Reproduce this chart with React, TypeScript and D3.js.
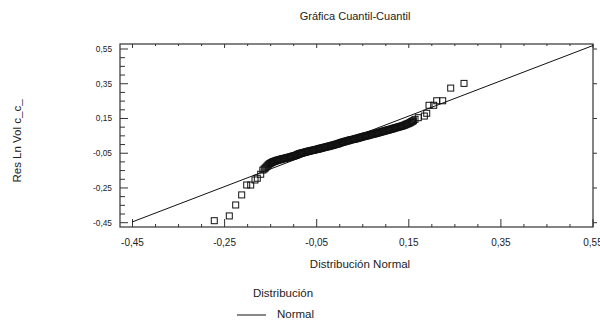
import React from "react";
import * as d3 from "d3";

// Lower tail: theoretical normal quantiles (x) and ordered residuals (y)
const lowerQuantiles: number[] = [
  -0.2724, -0.2398, -0.2259, -0.2129, -0.202, -0.1933, -0.184, -0.179, -0.1716, -0.167,
];
const lowerResiduals: number[] = [
  -0.4385, -0.411, -0.348, -0.29, -0.233, -0.233, -0.204, -0.194, -0.171, -0.147,
];

// Central body of the sample
const bodyQuantiles: number[] = [
  -0.164, -0.162, -0.16, -0.158, -0.156, -0.154, -0.152, -0.15, -0.148, -0.146,
  -0.144, -0.142, -0.14, -0.138, -0.136, -0.134, -0.132, -0.13, -0.128, -0.126,
  -0.124, -0.122, -0.12, -0.118, -0.116, -0.114, -0.112, -0.11, -0.108, -0.106,
  -0.104, -0.102, -0.1, -0.098, -0.096, -0.094, -0.092, -0.09, -0.088, -0.086,
  -0.084, -0.082, -0.08, -0.078, -0.076, -0.074, -0.072, -0.07, -0.068, -0.066,
  -0.064, -0.062, -0.06, -0.058, -0.056, -0.054, -0.052, -0.05, -0.048, -0.046,
  -0.044, -0.042, -0.04, -0.038, -0.036, -0.034, -0.032, -0.03, -0.028, -0.026,
  -0.024, -0.022, -0.02, -0.018, -0.016, -0.014, -0.012, -0.01, -0.008, -0.006,
  -0.004, -0.002, 0.0, 0.002, 0.004, 0.006, 0.008, 0.01, 0.012, 0.014,
  0.016, 0.018, 0.02, 0.022, 0.024, 0.026, 0.028, 0.03, 0.032, 0.034,
  0.036, 0.038, 0.04, 0.042, 0.044, 0.046, 0.048, 0.05, 0.052, 0.054,
  0.056, 0.058, 0.06, 0.062, 0.064, 0.066, 0.068, 0.07, 0.072, 0.074,
  0.076, 0.078, 0.08, 0.082, 0.084, 0.086, 0.088, 0.09, 0.092, 0.094,
  0.096, 0.098, 0.1, 0.102, 0.104, 0.106, 0.108, 0.11, 0.112, 0.114,
  0.116, 0.118, 0.12, 0.122, 0.124, 0.126, 0.128, 0.13, 0.132, 0.134,
  0.136, 0.138, 0.14, 0.142, 0.144, 0.146, 0.148, 0.15, 0.152, 0.154,
  0.156, 0.158, 0.16,
];
const bodyResiduals: number[] = [
  -0.141, -0.136, -0.13, -0.125, -0.119, -0.114, -0.11, -0.107, -0.104, -0.101,
  -0.099, -0.097, -0.095, -0.093, -0.091, -0.09, -0.088, -0.087, -0.085, -0.084,
  -0.082, -0.081, -0.08, -0.079, -0.077, -0.076, -0.075, -0.073, -0.072, -0.07,
  -0.069, -0.067, -0.066, -0.064, -0.063, -0.061, -0.058, -0.056, -0.053, -0.052,
  -0.05, -0.049, -0.047, -0.046, -0.045, -0.043, -0.042, -0.04, -0.039, -0.038,
  -0.036, -0.035, -0.034, -0.033, -0.032, -0.03, -0.029, -0.028, -0.027, -0.025,
  -0.024, -0.022, -0.021, -0.02, -0.018, -0.017, -0.016, -0.014, -0.013, -0.012,
  -0.01, -0.009, -0.008, -0.006, -0.005, -0.003, -0.002, 0.0, 0.001, 0.003,
  0.004, 0.006, 0.008, 0.01, 0.012, 0.013, 0.015, 0.016, 0.018, 0.019,
  0.021, 0.022, 0.024, 0.025, 0.027, 0.028, 0.029, 0.03, 0.031, 0.033,
  0.034, 0.036, 0.037, 0.039, 0.04, 0.042, 0.043, 0.045, 0.046, 0.048,
  0.049, 0.05, 0.051, 0.053, 0.054, 0.056, 0.057, 0.059, 0.06, 0.061,
  0.062, 0.064, 0.065, 0.067, 0.068, 0.07, 0.071, 0.073, 0.074, 0.076,
  0.077, 0.079, 0.08, 0.082, 0.083, 0.084, 0.086, 0.087, 0.089, 0.09,
  0.092, 0.094, 0.095, 0.097, 0.098, 0.1, 0.101, 0.103, 0.104, 0.106,
  0.107, 0.109, 0.111, 0.113, 0.116, 0.118, 0.12, 0.122, 0.125, 0.128,
  0.131, 0.134, 0.137,
];

// Upper tail
const upperQuantiles: number[] = [
  0.1635, 0.1706, 0.1837, 0.1889, 0.1939, 0.2041, 0.2106, 0.2236, 0.241, 0.2699,
];
const upperResiduals: number[] = [
  0.145, 0.1545, 0.164, 0.18, 0.226, 0.226, 0.252, 0.252, 0.325, 0.352,
];

// Fitted normal reference line endpoints
const refLineX: number[] = [-0.45, 0.55];
const refLineY: number[] = [-0.445, 0.57];

const majorTicks: number[] = [-0.45, -0.25, -0.05, 0.15, 0.35, 0.55];
const minorTicks: number[] = d3.range(-0.45, 0.5501, 0.05).map((v) => +v.toFixed(2));

const title = "Gráfica Cuantil-Cuantil";
const xTitle = "Distribución Normal";
const yTitle = "Res Ln Vol c_c_";
const legendTitle = "Distribución";
const legendItem = "Normal";

const W = 600;
const H = 327;
const box = { left: 120, right: 593, top: 44, bottom: 227 };

const fmt = (v: number) => d3.format(".2f")(v).replace(".", ",").replace("−", "-");

export default function App() {
  const x = d3.scaleLinear().domain([-0.45, 0.55]).range([132.5, 593]);
  const y = d3.scaleLinear().domain([-0.45, 0.55]).range([222.7, 49]);
  const font = "'Liberation Sans', Arial, sans-serif";
  const axisColor = "#333";

  const line = d3
    .line<number>()
    .x((_, i) => x(refLineX[i]))
    .y((_, i) => y(refLineY[i]));

  const qs = [...lowerQuantiles, ...bodyQuantiles, ...upperQuantiles];
  const rs = [...lowerResiduals, ...bodyResiduals, ...upperResiduals];
  const pts = qs.map((q, i) => [q, rs[i]] as [number, number]);
  const s = 6;

  return (
    <svg
      width={W}
      height={H}
      style={{ position: "absolute", left: 0, top: 0, background: "#fff" }}
      fontFamily={font}
    >
      <rect x={0} y={0} width={W} height={H} fill="#fff" />
      <text x={355} y={20} fontSize={11} textAnchor="middle" fill="#222">
        {title}
      </text>

      {/* frame */}
      <rect
        x={box.left}
        y={box.top}
        width={box.right - box.left}
        height={box.bottom - box.top}
        fill="none"
        stroke={axisColor}
        strokeWidth={1.2}
      />

      {/* ticks: bottom (up), top (down), left (right) */}
      {minorTicks.map((t) => {
        const major = majorTicks.some((m) => Math.abs(m - t) < 1e-6);
        return (
          <g key={"xt" + t}>
            <line x1={x(t)} x2={x(t)} y1={box.bottom} y2={box.bottom - (major ? 8 : 3)} stroke={axisColor} />
            <line x1={x(t)} x2={x(t)} y1={box.top} y2={box.top + (major ? 4 : 2)} stroke={axisColor} />
            <line x1={box.left} x2={box.left + (major ? 8 : 5)} y1={y(t)} y2={y(t)} stroke={axisColor} />
          </g>
        );
      })}
      {majorTicks.map((t) => (
        <line key={"rt" + t} x1={box.right} x2={box.right + 4} y1={y(t)} y2={y(t)} stroke={axisColor} />
      ))}

      {majorTicks.map((t) => (
        <text key={"xl" + t} x={x(t)} y={246} fontSize={10} textAnchor="middle" fill="#222">
          {fmt(t)}
        </text>
      ))}
      {majorTicks.map((t) => (
        <text key={"yl" + t} x={112} y={y(t) + 2.8} fontSize={8.3} textAnchor="end" fill="#222">
          {fmt(t)}
        </text>
      ))}

      {/* reference line */}
      <path d={line(refLineX) || ""} fill="none" stroke="#111" strokeWidth={1} />

      {/* points */}
      {pts.map(([q, r], i) => (
        <rect
          key={"p" + i}
          x={x(q) - s / 2}
          y={y(r) - s / 2}
          width={s}
          height={s}
          fill="none"
          stroke="#111"
          strokeWidth={1}
        />
      ))}

      <text x={360} y={268} fontSize={11.5} textAnchor="middle" fill="#222">
        {xTitle}
      </text>
      <text transform={`translate(21,141) rotate(-90)`} fontSize={11.5} textAnchor="middle" fill="#222">
        {yTitle}
      </text>

      {/* legend */}
      <text x={283} y={297} fontSize={11.5} textAnchor="middle" fill="#222">
        {legendTitle}
      </text>
      <line x1={237} x2={266} y1={315} y2={315} stroke="#111" strokeWidth={1} />
      <text x={277} y={318} fontSize={11.5} fill="#222">
        {legendItem}
      </text>
    </svg>
  );
}
